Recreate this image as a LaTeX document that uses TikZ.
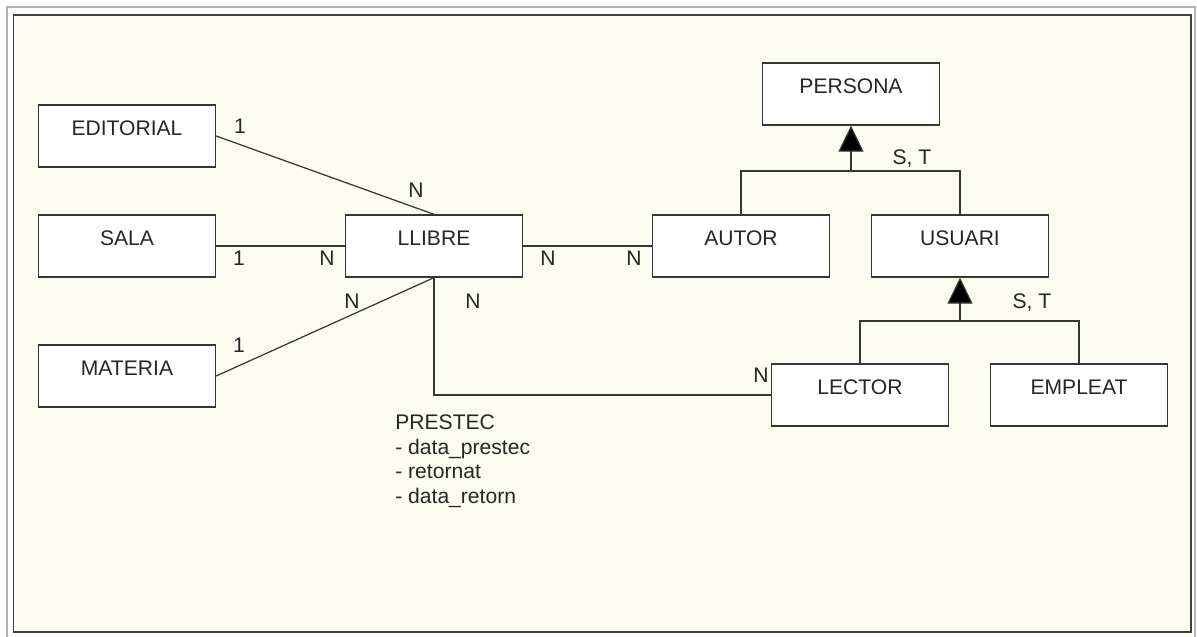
\documentclass[tikz,border=0pt]{standalone}
\usepackage{fontspec}
\setmainfont{Liberation Sans}
\usepackage{xcolor}
\usepackage{tikz}
\usetikzlibrary{arrows.meta,positioning,calc}
\definecolor{fons}{RGB}{253,252,240}
\definecolor{traç}{RGB}{55,55,50}

\begin{document}
\begin{tikzpicture}[x=0.02cm,y=-0.02cm,>=Latex,
    font=\fontsize{12}{14}\selectfont,
    entitat/.style={draw=traç,line width=0.75pt,fill=white,minimum width=3.54cm,inner ysep=0pt,text height=0.6cm,text depth=0.64cm,text=black!85},
    card/.style={inner sep=0pt,text=black!85},
    linia/.style={draw=traç,line width=0.7pt},
    hereta/.style={linia,-{Triangle[length=0.52cm,width=0.5cm,fill=black]}}]
    % marc i fons
    \useasboundingbox (0,0) rectangle (1197,636);
    \fill[white] (0,0) rectangle (1197,636);
    \draw[black!30,line width=1.6pt] (7,7) rectangle (1195,640);
    \draw[fill=fons,draw=black!75,line width=1pt] (13.5,15) rectangle (1191,632);

    % entitats
    \node[entitat] (editorial) at (127,136) {EDITORIAL};
    \node[entitat] (sala) at (127,246) {SALA};
    \node[entitat] (materia) at (127,376) {MATERIA};
    \node[entitat] (llibre) at (434,246) {LLIBRE};
    \node[entitat] (autor) at (741,246) {AUTOR};
    \node[entitat] (usuari) at (960,246) {USUARI};
    \node[entitat] (persona) at (851,94) {PERSONA};
    \node[entitat] (lector) at (860,395) {LECTOR};
    \node[entitat] (empleat) at (1079,395) {EMPLEAT};

    % relacions amb LLIBRE
    \draw[linia] (editorial.east) -- (llibre.north);
    \draw[linia] (sala.east) -- (llibre.west);
    \draw[linia] (materia.east) -- (llibre.south);
    \draw[linia] (llibre.east) -- (autor.west);
    \draw[linia] (llibre.south) |- (lector.west);

    % cardinalitats
    \node[card] (c1) at (240,126) {1};
    \node[card] (c2) at (416,190) {N};
    \node[card] (c3) at (239,258) {1};
    \node[card] (c4) at (327,258) {N};
    \node[card] (c5) at (239,345) {1};
    \node[card] (c6) at (352,301) {N};
    \node[card] (c7) at (473,301) {N};
    \node[card] (c8) at (548,258) {N};
    \node[card] (c9) at (634,258) {N};
    \node[card] (c10) at (761,375) {N};

    % atributs de PRESTEC
    \node[card,anchor=north west,align=left,font=\fontsize{12}{14.2}\selectfont] (prestec) at (395,414)
        {PRESTEC\\- data\_prestec\\- retornat\\- data\_retorn};

    % jerarquia PERSONA
    \coordinate (h1) at (851,171);
    \draw[linia] (autor.north) |- (h1) -| (usuari.north);
    \draw[hereta] (h1) -- (persona.south);
    \node[card] (st1) at (912,158) {S, T};

    % jerarquia USUARI
    \coordinate (h2) at (960,321);
    \draw[linia] (lector.north) |- (h2) -| (empleat.north);
    \draw[hereta] (h2) -- (usuari.south);
    \node[card] (st2) at (1032,302) {S, T};
\end{tikzpicture}
\end{document}
